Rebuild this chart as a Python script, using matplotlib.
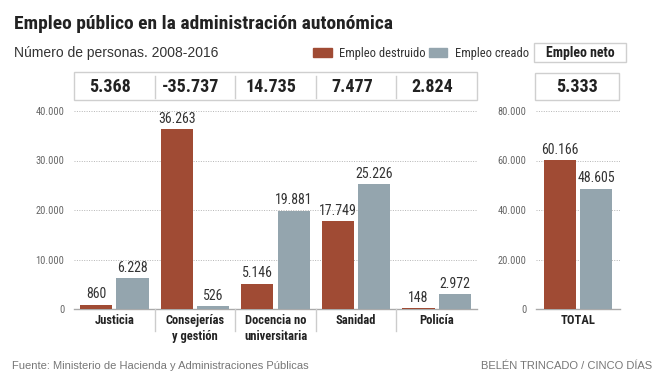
import matplotlib
matplotlib.use('Agg')
import matplotlib.pyplot as plt
import matplotlib.transforms as mtransforms
from matplotlib.patches import Rectangle
from matplotlib.lines import Line2D
from matplotlib import font_manager
from matplotlib.font_manager import FontProperties

categories = ['Justicia', 'Consejerías\ny gestión', 'Docencia no\nuniversitaria', 'Sanidad', 'Policía']
destruido = [860, 36263, 5146, 17749, 148]
creado = [6228, 526, 19881, 25226, 2972]
neto = [5368, -35737, 14735, 7477, 2824]
total_destruido = 60166
total_creado = 48605
total_neto = 5333
left_ticks = [0, 10000, 20000, 30000, 40000]
right_ticks = [0, 20000, 40000, 60000, 80000]

RED = '#a04b34'
BLUE = '#94a5ae'
GRID = '#b5b5b5'
BORDER = '#cfcfcf'
REG = ['Liberation Sans', 'DejaVu Sans']

W, H = 664, 381


# look for a narrow / condensed face on the system
def find_face(bold):
    prefs = ['liberationsansnarrow', 'robotocondensed', 'opensanscondensed', 'dejavusanscondensed',
             'notosanscondensed']
    files = [f.fname for f in font_manager.fontManager.ttflist]
    for p in prefs:
        for fn in files:
            base = fn.split('/')[-1].lower().replace('_', '').replace(' ', '').replace('-', '')
            if not base.startswith(p):
                continue
            if 'italic' in base or 'oblique' in base:
                continue
            is_bold = 'bold' in base and 'semibold' not in base and 'extrabold' not in base
            if bold == is_bold:
                if not bold and any(k in base for k in ('light', 'thin', 'medium', 'black', 'semi', 'extra')):
                    continue
                return fn
    return None


NARROW_REG = find_face(False)
NARROW_BOLD = find_face(True)


def fp(size, bold=False):
    path = NARROW_BOLD if bold else NARROW_REG
    if path:
        return FontProperties(fname=path, size=size)
    return FontProperties(family='DejaVu Sans', size=size * 0.85,
                          weight='bold' if bold else 'normal')


def fx(x):
    return x / W


def fy(y):
    return 1 - y / H


def fmt(v):
    return f'{v:,}'.replace(',', '.')


fig = plt.figure(figsize=(6.64, 3.81), dpi=100)
fig.patch.set_facecolor('white')

ax = fig.add_axes([fx(74), fy(309), fx(477 - 74), (309 - 111) / H])
ax2 = fig.add_axes([fx(536), fy(309), fx(620 - 536), (309 - 111) / H])

BW = 0.4
OFF = 0.225
xs = list(range(len(categories)))

ax.bar([x - OFF for x in xs], destruido, BW, color=RED, zorder=3)
ax.bar([x + OFF for x in xs], creado, BW, color=BLUE, zorder=3)
for x, d, c in zip(xs, destruido, creado):
    ax.text(x - OFF, d + 700, fmt(d), ha='center', va='bottom', fontproperties=fp(10),
            color='#333333')
    ax.text(x + OFF, c + 700, fmt(c), ha='center', va='bottom', fontproperties=fp(10),
            color='#333333')

ax.set_xlim(-0.5, 4.5)
ax.set_ylim(0, 40000)

ax2.bar([-OFF], [total_destruido], BW, color=RED, zorder=3)
ax2.bar([OFF], [total_creado], BW, color=BLUE, zorder=3)
ax2.text(-OFF, total_destruido + 1400, fmt(total_destruido), ha='center', va='bottom',
         fontproperties=fp(10), color='#333333')
ax2.text(OFF, total_creado + 1400, fmt(total_creado), ha='center', va='bottom',
         fontproperties=fp(10), color='#333333')
ax2.set_xlim(-0.52, 0.52)
ax2.set_ylim(0, 80000)

for a, ticks in ((ax, left_ticks), (ax2, right_ticks)):
    a.set_yticks(ticks)
    a.set_yticklabels([fmt(t) for t in ticks], fontproperties=fp(7.5), color='#666666')
    a.tick_params(axis='y', length=0, pad=7)
    a.set_xticks([])
    for s in ('top', 'right', 'left'):
        a.spines[s].set_visible(False)
    a.spines['bottom'].set_color('#aaaaaa')
    a.spines['bottom'].set_linewidth(1)
    a.grid(axis='y', linestyle=(0, (1, 1.5)), color=GRID, linewidth=0.7, zorder=0)
    a.set_facecolor('none')

# category labels and separators under the axis
tr = mtransforms.blended_transform_factory(ax.transData, fig.transFigure)
for x, cat in zip(xs, categories):
    ax.text(x, fy(314), cat, transform=tr, ha='center', va='top', fontproperties=fp(9, True),
            color='#222222', linespacing=1.3)
for b in [0.5, 1.5, 2.5, 3.5]:
    fig.add_artist(Line2D([b, b], [fy(309), fy(331)], transform=tr, color='#cccccc', lw=1))

tr2 = mtransforms.blended_transform_factory(ax2.transData, fig.transFigure)
ax2.text(0, fy(314), 'TOTAL', transform=tr2, ha='center', va='top', fontproperties=fp(9, True),
         color='#222222')

# net employment boxes
fig.add_artist(Rectangle((-0.5, fy(100)), 5, (100 - 72) / H, transform=tr,
                         fill=False, edgecolor=BORDER, lw=1))
for b in [0.5, 1.5, 2.5, 3.5]:
    fig.add_artist(Line2D([b, b], [fy(76), fy(98)], transform=tr, color=BORDER, lw=1))
for x, n in zip(xs, neto):
    ax.text(x - 0.05, fy(87), fmt(n), transform=tr, ha='center', va='center',
            fontproperties=fp(13, True), color='#222222')

fig.add_artist(Rectangle((fx(535), fy(100)), fx(619 - 535), (100 - 73) / H,
                         transform=fig.transFigure, fill=False, edgecolor=BORDER, lw=1))
fig.text(fx(577), fy(87), fmt(total_neto), ha='center', va='center',
         fontproperties=fp(13, True), color='#222222')

# titles
fig.text(fx(14), fy(24), 'Empleo público en la administración autonómica', ha='left',
         va='center', fontproperties=fp(14, True), color='#222222')
fig.text(fx(14), fy(53), 'Número de personas. 2008-2016', ha='left', va='center',
         fontsize=10, family=REG, color='#333333')

# legend
fig.add_artist(Rectangle((fx(313), fy(57)), fx(19), 9 / H, transform=fig.transFigure,
                         color=RED))
fig.text(fx(339), fy(53), 'Empleo destruido', ha='left', va='center', fontproperties=fp(9),
         color='#333333')
fig.add_artist(Rectangle((fx(429), fy(57)), fx(18), 9 / H, transform=fig.transFigure,
                         color=BLUE))
fig.text(fx(455), fy(53), 'Empleo creado', ha='left', va='center', fontproperties=fp(9),
         color='#333333')
fig.add_artist(Rectangle((fx(534), fy(62)), fx(626 - 534), (62 - 43) / H,
                         transform=fig.transFigure, fill=False, edgecolor=BORDER, lw=1))
fig.text(fx(580), fy(52.5), 'Empleo neto', ha='center', va='center',
         fontproperties=fp(10, True), color='#222222')

# footer
fig.text(fx(12), fy(366), 'Fuente: Ministerio de Hacienda y Administraciones Públicas',
         ha='left', va='center', fontsize=8, family=REG, color='#777777')
fig.text(fx(652), fy(366), 'BELÉN TRINCADO / CINCO DÍAS', ha='right', va='center',
         fontsize=8, family=REG, color='#777777')

fig.savefig('out.png', dpi=100)
